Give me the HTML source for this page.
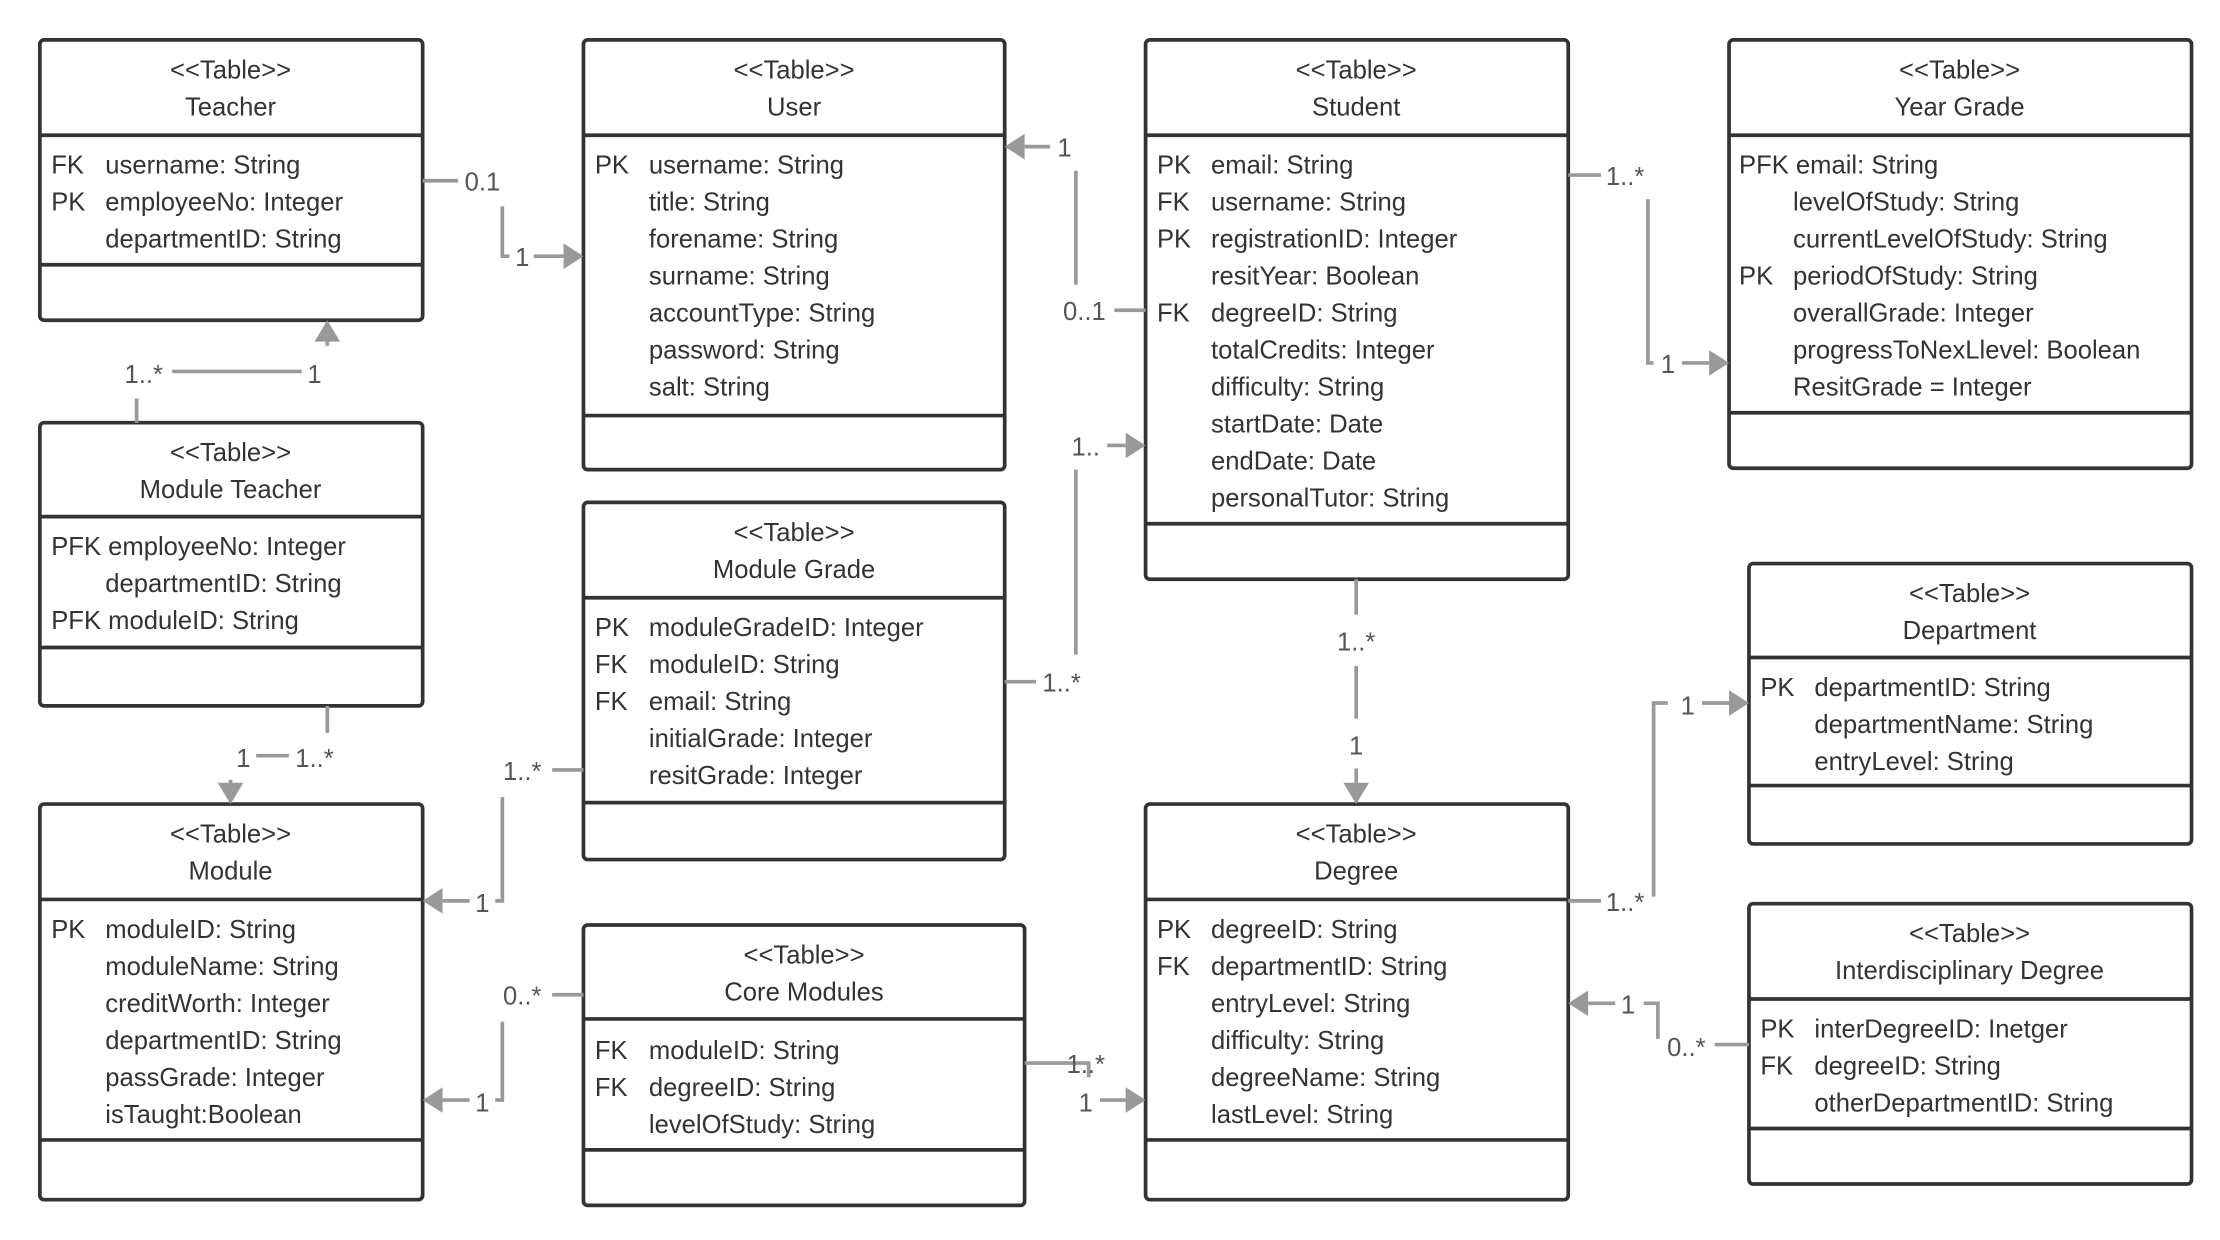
<!DOCTYPE html>
<html><head><meta charset="utf-8"><style>
html,body{margin:0;padding:0;background:#fff;}
svg{display:block;}
text{font-family:"Liberation Sans",sans-serif;font-size:18px;fill:#333;}
.c{text-anchor:middle;}
.l{fill:#555;text-anchor:middle;}
.b{fill:#fff;stroke:#333;stroke-width:2.6;}
.d{stroke:#333;stroke-width:2.6;}
.k{stroke:#999;stroke-width:2.6;fill:none;}
.a{fill:#999;}
</style></head><body>
<svg width="2220" height="1240" viewBox="0 0 1560 871.3" xmlns="http://www.w3.org/2000/svg">
<g>
<rect class="b" x="28" y="28" width="269" height="197" rx="3"/><line class="d" x1="28" y1="95" x2="297" y2="95"/><line class="d" x1="28" y1="186" x2="297" y2="186"/>
<text class="c" x="162" y="55">&lt;&lt;Table&gt;&gt;</text><text class="c" x="162" y="81">Teacher</text>
<text x="36" y="122">FK</text><text x="74" y="122">username: String</text>
<text x="36" y="148">PK</text><text x="74" y="148">employeeNo: Integer</text>
<text x="74" y="174">departmentID: String</text>

<rect class="b" x="410" y="28" width="296" height="302" rx="3"/><line class="d" x1="410" y1="95" x2="706" y2="95"/><line class="d" x1="410" y1="292" x2="706" y2="292"/>
<text class="c" x="558" y="55">&lt;&lt;Table&gt;&gt;</text><text class="c" x="558" y="81">User</text>
<text x="418" y="122">PK</text><text x="456" y="122">username: String</text>
<text x="456" y="148">title: String</text>
<text x="456" y="174">forename: String</text>
<text x="456" y="200">surname: String</text>
<text x="456" y="226">accountType:  String</text>
<text x="456" y="252">password: String</text>
<text x="456" y="278">salt: String</text>

<rect class="b" x="805" y="28" width="297" height="379" rx="3"/><line class="d" x1="805" y1="95" x2="1102" y2="95"/><line class="d" x1="805" y1="368" x2="1102" y2="368"/>
<text class="c" x="953" y="55">&lt;&lt;Table&gt;&gt;</text><text class="c" x="953" y="81">Student</text>
<text x="813" y="122">PK</text><text x="851" y="122">email: String</text>
<text x="813" y="148">FK</text><text x="851" y="148">username: String</text>
<text x="813" y="174">PK</text><text x="851" y="174">registrationID: Integer</text>
<text x="851" y="200">resitYear:  Boolean</text>
<text x="813" y="226">FK</text><text x="851" y="226">degreeID: String</text>
<text x="851" y="252">totalCredits: Integer</text>
<text x="851" y="278">difficulty: String</text>
<text x="851" y="304">startDate: Date</text>
<text x="851" y="330">endDate: Date</text>
<text x="851" y="356">personalTutor: String</text>

<rect class="b" x="1215" y="28" width="325" height="301" rx="3"/><line class="d" x1="1215" y1="95" x2="1540" y2="95"/><line class="d" x1="1215" y1="290" x2="1540" y2="290"/>
<text class="c" x="1377" y="55">&lt;&lt;Table&gt;&gt;</text><text class="c" x="1377" y="81">Year Grade</text>
<text x="1222" y="122">PFK email: String</text>
<text x="1260" y="148">levelOfStudy: String</text>
<text x="1260" y="174">currentLevelOfStudy: String</text>
<text x="1222" y="200">PK</text><text x="1260" y="200">periodOfStudy: String</text>
<text x="1260" y="226">overallGrade: Integer</text>
<text x="1260" y="252">progressToNexLlevel:  Boolean</text>
<text x="1260" y="278">ResitGrade = Integer</text>

<rect class="b" x="28" y="297" width="269" height="199" rx="3"/><line class="d" x1="28" y1="363" x2="297" y2="363"/><line class="d" x1="28" y1="455" x2="297" y2="455"/>
<text class="c" x="162" y="324">&lt;&lt;Table&gt;&gt;</text><text class="c" x="162" y="350">Module Teacher</text>
<text x="36" y="390">PFK employeeNo: Integer</text>
<text x="74" y="416">departmentID: String</text>
<text x="36" y="442">PFK moduleID: String</text>

<rect class="b" x="410" y="353" width="296" height="251" rx="3"/><line class="d" x1="410" y1="420" x2="706" y2="420"/><line class="d" x1="410" y1="564" x2="706" y2="564"/>
<text class="c" x="558" y="380">&lt;&lt;Table&gt;&gt;</text><text class="c" x="558" y="406">Module Grade</text>
<text x="418" y="447">PK</text><text x="456" y="447">moduleGradeID: Integer</text>
<text x="418" y="473">FK</text><text x="456" y="473">moduleID: String</text>
<text x="418" y="499">FK</text><text x="456" y="499">email: String</text>
<text x="456" y="525">initialGrade: Integer</text>
<text x="456" y="551">resitGrade: Integer</text>

<rect class="b" x="1229" y="396" width="311" height="197" rx="3"/><line class="d" x1="1229" y1="462" x2="1540" y2="462"/><line class="d" x1="1229" y1="552" x2="1540" y2="552"/>
<text class="c" x="1384" y="423">&lt;&lt;Table&gt;&gt;</text><text class="c" x="1384" y="449">Department</text>
<text x="1237" y="489">PK</text><text x="1275" y="489">departmentID: String</text>
<text x="1275" y="515">departmentName: String</text>
<text x="1275" y="541">entryLevel: String</text>

<rect class="b" x="28" y="565" width="269" height="278" rx="3"/><line class="d" x1="28" y1="632" x2="297" y2="632"/><line class="d" x1="28" y1="801" x2="297" y2="801"/>
<text class="c" x="162" y="592">&lt;&lt;Table&gt;&gt;</text><text class="c" x="162" y="618">Module</text>
<text x="36" y="659">PK</text><text x="74" y="659">moduleID: String</text>
<text x="74" y="685">moduleName: String</text>
<text x="74" y="711">creditWorth:  Integer</text>
<text x="74" y="737">departmentID: String</text>
<text x="74" y="763">passGrade: Integer</text>
<text x="74" y="789">isTaught:Boolean</text>

<rect class="b" x="410" y="650" width="310" height="197" rx="3"/><line class="d" x1="410" y1="716" x2="720" y2="716"/><line class="d" x1="410" y1="808" x2="720" y2="808"/>
<text class="c" x="565" y="677">&lt;&lt;Table&gt;&gt;</text><text class="c" x="565" y="703">Core Modules</text>
<text x="418" y="744">FK</text><text x="456" y="744">moduleID: String</text>
<text x="418" y="770">FK</text><text x="456" y="770">degreeID: String</text>
<text x="456" y="796">levelOfStudy: String</text>

<rect class="b" x="805" y="565" width="297" height="278" rx="3"/><line class="d" x1="805" y1="632" x2="1102" y2="632"/><line class="d" x1="805" y1="801" x2="1102" y2="801"/>
<text class="c" x="953" y="592">&lt;&lt;Table&gt;&gt;</text><text class="c" x="953" y="618">Degree</text>
<text x="813" y="659">PK</text><text x="851" y="659">degreeID: String</text>
<text x="813" y="685">FK</text><text x="851" y="685">departmentID: String</text>
<text x="851" y="711">entryLevel: String</text>
<text x="851" y="737">difficulty: String</text>
<text x="851" y="763">degreeName: String</text>
<text x="851" y="789">lastLevel: String</text>

<rect class="b" x="1229" y="635" width="311" height="197" rx="3"/><line class="d" x1="1229" y1="702" x2="1540" y2="702"/><line class="d" x1="1229" y1="793" x2="1540" y2="793"/>
<text class="c" x="1384" y="662">&lt;&lt;Table&gt;&gt;</text><text class="c" x="1384" y="688">Interdisciplinary Degree</text>
<text x="1237" y="729">PK</text><text x="1275" y="729">interDegreeID: Inetger</text>
<text x="1237" y="755">FK</text><text x="1275" y="755">degreeID: String</text>
<text x="1275" y="781">otherDepartmentID: String</text>
</g>
<g>
<path class="k" d="M297 127H322 M353 145V180H358 M375 180H396"/><polygon class="a" points="410,180 396,171 396,189"/>
<text class="l" x="339" y="134">0.1</text><text class="l" x="367" y="187">1</text>
<path class="k" d="M720 103H738 M756 120V200 M783 218H805"/><polygon class="a" points="706,103 720,94 720,112"/>
<text class="l" x="748" y="110">1</text><text class="l" x="762" y="225">0..1</text>
<path class="k" d="M1102 123H1125 M1158 140V255H1162 M1182 255H1201"/><polygon class="a" points="1215,255 1201,246 1201,264"/>
<text class="l" x="1142" y="130">1..*</text><text class="l" x="1172" y="262">1</text>
<path class="k" d="M96 280V297 M121 261H212 M230 243V239"/><polygon class="a" points="230,225 221,240 239,240"/>
<text class="l" x="101" y="269">1..*</text><text class="l" x="221" y="269">1</text>
<path class="k" d="M230 496V515 M180 531H203 M162 548V551"/><polygon class="a" points="162,565 153,550 171,550"/>
<text class="l" x="171" y="539">1</text><text class="l" x="221" y="539">1..*</text>
<path class="k" d="M706 479H728 M756 330V460 M778 313H791"/><polygon class="a" points="805,313 791,304 791,322"/>
<text class="l" x="746" y="486">1..*</text><text class="l" x="763" y="320">1..</text>
<path class="k" d="M410 541H388 M353 560V633H348 M330 633H311"/><polygon class="a" points="297,633 311,624 311,642"/>
<text class="l" x="367" y="548">1..*</text><text class="l" x="339" y="641">1</text>
<path class="k" d="M410 699H388 M353 718V773H348 M330 773H311"/><polygon class="a" points="297,773 311,764 311,782"/>
<text class="l" x="367" y="706">0..*</text><text class="l" x="339" y="781">1</text>
<path class="k" d="M720 747H765V757 M773 773H791"/><polygon class="a" points="805,773 791,764 791,782"/>
<text class="l" x="763" y="754">1..*</text><text class="l" x="763" y="781">1</text>
<path class="k" d="M953 407V432 M953 468V505 M953 540V551"/><polygon class="a" points="953,565 944,550 962,550"/>
<text class="l" x="953" y="457">1..*</text><text class="l" x="953" y="530">1</text>
<path class="k" d="M1102 633H1125 M1162 630V494H1172 M1196 494H1215"/><polygon class="a" points="1229,494 1215,485 1215,503"/>
<text class="l" x="1142" y="640">1..*</text><text class="l" x="1186" y="502">1</text>
<path class="k" d="M1229 734H1205 M1165 730V705H1155 M1135 705H1116"/><polygon class="a" points="1102,705 1116,696 1116,714"/>
<text class="l" x="1185" y="742">0..*</text><text class="l" x="1144" y="712">1</text>
</g>
</svg>
</body></html>
